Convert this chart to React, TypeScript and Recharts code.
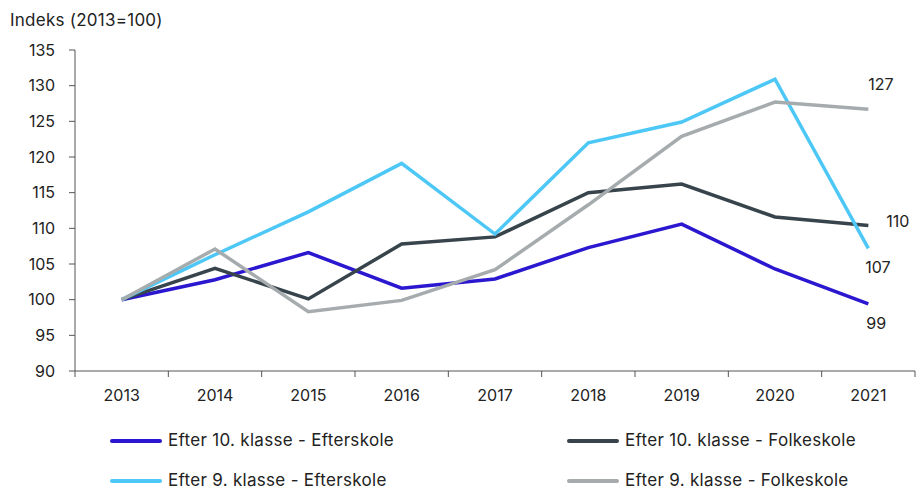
import React from "react";
import { LineChart, Line, XAxis, YAxis, Legend, LabelList } from "recharts";

// years on the x axis
const years = [2013, 2014, 2015, 2016, 2017, 2018, 2019, 2020, 2021];

// index values (2013 = 100)
const efter10Efterskole = [100, 102.8, 106.6, 101.6, 102.9, 107.3, 110.6, 104.3, 99.4];
const efter10Folkeskole = [100, 104.4, 100.1, 107.8, 108.8, 115.0, 116.2, 111.6, 110.4];
const efter9Efterskole = [100, 106.3, 112.3, 119.1, 109.2, 122.0, 124.9, 130.9, 107.2];
const efter9Folkeskole = [100, 107.1, 98.3, 99.9, 104.2, 113.3, 122.9, 127.7, 126.7];

const yTicks = [90, 95, 100, 105, 110, 115, 120, 125, 130, 135];
// boundaries between years get the small tick marks
const xTicks = [...years, ...years.map((y) => y - 0.5), years[years.length - 1] + 0.5].sort((a, b) => a - b);

const data = years.map((year, i) => ({
  year,
  e10e: efter10Efterskole[i],
  e10f: efter10Folkeskole[i],
  e9e: efter9Efterskole[i],
  e9f: efter9Folkeskole[i],
}));

const FONT = 'Inter, "Liberation Sans", Arial, sans-serif';
const TEXT = "#222";
const AXIS = "#555";

const series = [
  { key: "e10e", name: "Efter 10. klasse - Efterskole", color: "#2b17cf", dx: -2, dy: 19 },
  { key: "e10f", name: "Efter 10. klasse - Folkeskole", color: "#38444c", dx: 18, dy: -4 },
  { key: "e9e", name: "Efter 9. klasse - Efterskole", color: "#4dc8f6", dx: -3, dy: 19 },
  { key: "e9f", name: "Efter 9. klasse - Folkeskole", color: "#a6abae", dx: 0, dy: -25 },
];

const XTick = (props: any) => {
  const { x, y, payload } = props;
  if (Number.isInteger(payload.value)) {
    return (
      <text x={x} y={y + 24} textAnchor="middle" dominantBaseline="central" fontSize={16} fill={TEXT} fontFamily={FONT}>
        {payload.value}
      </text>
    );
  }
  return <line x1={x} y1={y} x2={x} y2={y + 6} stroke={AXIS} strokeWidth={1} />;
};

const endLabel = (dx: number, dy: number) => (props: any) => {
  const { x, y, value, index } = props;
  if (index !== years.length - 1) return null;
  return (
    <text x={x + dx} y={y + dy} textAnchor="start" dominantBaseline="central" fontSize={16} fill={TEXT} fontFamily={FONT}>
      {Math.round(value)}
    </text>
  );
};

const LegendContent = () => {
  const rows = [
    [series[0], series[1]],
    [series[2], series[3]],
  ];
  return (
    <div style={{ fontFamily: FONT, fontSize: 17, letterSpacing: 0.3, color: TEXT }}>
      {rows.map((row, r) =>
        row.map((s, c) => (
          <div
            key={s.key}
            style={{
              position: "absolute",
              left: c === 0 ? 110 : 567,
              top: r * 40,
              display: "flex",
              alignItems: "center",
              height: 17,
              lineHeight: "17px",
              whiteSpace: "nowrap",
            }}
          >
            <span style={{ display: "inline-block", width: 52, height: 4, borderRadius: 2, background: s.color, marginRight: 6 }} />
            <span>{s.name}</span>
          </div>
        ))
      )}
    </div>
  );
};

export default function App() {
  return (
    <div style={{ position: "absolute", left: 0, top: 0, width: 916, height: 490 }}>
      <div
        style={{
          position: "absolute",
          left: 10,
          top: 9,
          fontFamily: FONT,
          fontSize: 17,
          letterSpacing: 0.25,
          color: TEXT,
          lineHeight: "22px",
        }}
      >
        Indeks (2013=100)
      </div>
      <LineChart width={916} height={490} data={data} margin={{ top: 50, right: 1, left: 0, bottom: 79 }}>
        <XAxis
          dataKey="year"
          type="number"
          domain={[2012.5, 2021.5]}
          ticks={xTicks}
          interval={0}
          tick={<XTick />}
          tickLine={false}
          tickSize={0}
          tickMargin={0}
          height={40}
          axisLine={{ stroke: AXIS, strokeWidth: 1 }}
        />
        <YAxis
          domain={[90, 135]}
          ticks={yTicks}
          interval={0}
          width={75}
          tickSize={6}
          tickMargin={14}
          tickLine={{ stroke: AXIS }}
          axisLine={{ stroke: AXIS, strokeWidth: 1 }}
          tick={{ fontSize: 16, fill: TEXT, fontFamily: FONT }}
        />
        <Legend
          layout="horizontal"
          verticalAlign="middle"
          align="center"
          content={<LegendContent />}
          wrapperStyle={{ top: 432, left: 0, bottom: "auto", width: 916, height: 57 }}
        />
        {series.map((s) => (
          <Line
            key={s.key}
            dataKey={s.key}
            name={s.name}
            stroke={s.color}
            strokeWidth={3.5}
            dot={false}
            activeDot={false}
            type="linear"
            isAnimationActive={false}
          >
            <LabelList dataKey={s.key} content={endLabel(s.dx, s.dy)} />
          </Line>
        ))}
      </LineChart>
    </div>
  );
}
